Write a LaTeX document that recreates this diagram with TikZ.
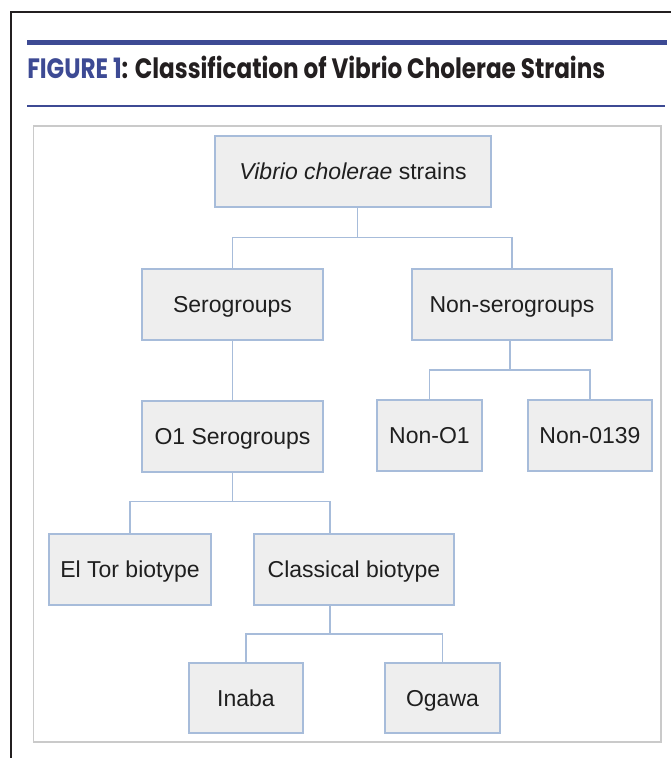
\documentclass[tikz,border=0pt]{standalone}
\usepackage{fontspec}
\usepackage{graphicx}
\setmainfont{Liberation Sans}
\newfontfamily\titlefont{Poppins}
\usetikzlibrary{calc}
\definecolor{boxfill}{HTML}{EEEEEE}
\definecolor{boxline}{HTML}{A7BCDA}
\definecolor{titleblue}{HTML}{3D4A94}
\definecolor{framegray}{HTML}{CACACA}
\definecolor{inkblack}{HTML}{231F20}
\begin{document}
\begin{tikzpicture}[x=0.75pt,y=-0.75pt,
  box/.style={draw=boxline, fill=boxfill, line width=1.1pt, inner sep=0pt,
    font=\fontsize{17.25pt}{20pt}\selectfont, text=black!88,
    text height=12.4pt, text depth=0pt},
  conn/.style={draw=boxline, line width=1.1pt}]
\useasboundingbox (0,0) rectangle (671,758);
\fill[white] (0,0) rectangle (671,758);
% frame and title
\draw[inkblack, line width=1.5pt] (10.5,758) -- (10.5,12) -- (671,12);
\fill[titleblue] (27,39.5) rectangle (667,44.5);
\draw[titleblue, line width=1.5pt] (27,106) -- (665,106);
\node[anchor=base west, inner sep=0pt, text=inkblack] (title) at (27,78.3)
  {\resizebox{433.5pt}{\height}{\titlefont\bfseries\fontsize{21pt}{24pt}\selectfont\textcolor{titleblue}{FIGURE 1}: Classification of Vibrio Cholerae Strains}};
\draw[framegray, line width=0.8pt] (33.3,126) rectangle (661,742);
% nodes
\node[box, minimum width=207pt, minimum height=53.25pt] (top) at (353,171.5) {\textit{Vibrio cholerae} strains};
\node[box, minimum width=135.75pt, minimum height=53.25pt] (sero) at (232.5,304.5) {Serogroups};
\node[box, minimum width=150pt, minimum height=53.25pt] (nonsero) at (512,304.5) {Non-serogroups};
\node[box, minimum width=135.75pt, minimum height=53.25pt] (o1) at (232.5,436.5) {O1 Serogroups};
\node[box, minimum width=78.75pt, minimum height=53.25pt] (nono1) at (429.5,435.5) {Non-O1};
\node[box, minimum width=93pt, minimum height=53.25pt] (non0139) at (590,435.5) {Non-0139};
\node[box, minimum width=121.5pt, minimum height=53.25pt] (eltor) at (130,569.5) {El Tor biotype};
\node[box, minimum width=150pt, minimum height=53.25pt] (classical) at (354,569.5) {Classical biotype};
\node[box, minimum width=85.5pt, minimum height=52.5pt] (inaba) at (246,698) {Inaba};
\node[box, minimum width=86.25pt, minimum height=52.5pt] (ogawa) at (442.5,698) {Ogawa};
% junctions
\coordinate (j1) at (357.5,237.7);
\coordinate (cj) at (330,501.7);
\coordinate (dj) at (330,634);
\coordinate (ej) at (510,370);
% connectors
\draw[conn] (top.south -| j1) -- (j1);
\draw[conn] (sero.north) |- (j1) -| (nonsero.north);
\draw[conn] (sero.south) -- (o1.north);
\draw[conn] (o1.south) -- (o1.south |- cj);
\draw[conn] (eltor.north) |- (cj) -- (cj |- classical.north);
\draw[conn] (classical.south -| dj) -- (dj);
\draw[conn] (inaba.north) |- (dj) -| (ogawa.north);
\draw[conn] (nonsero.south -| ej) -- (ej);
\draw[conn] (nono1.north) |- (ej) -| (non0139.north);
\end{tikzpicture}
\end{document}
